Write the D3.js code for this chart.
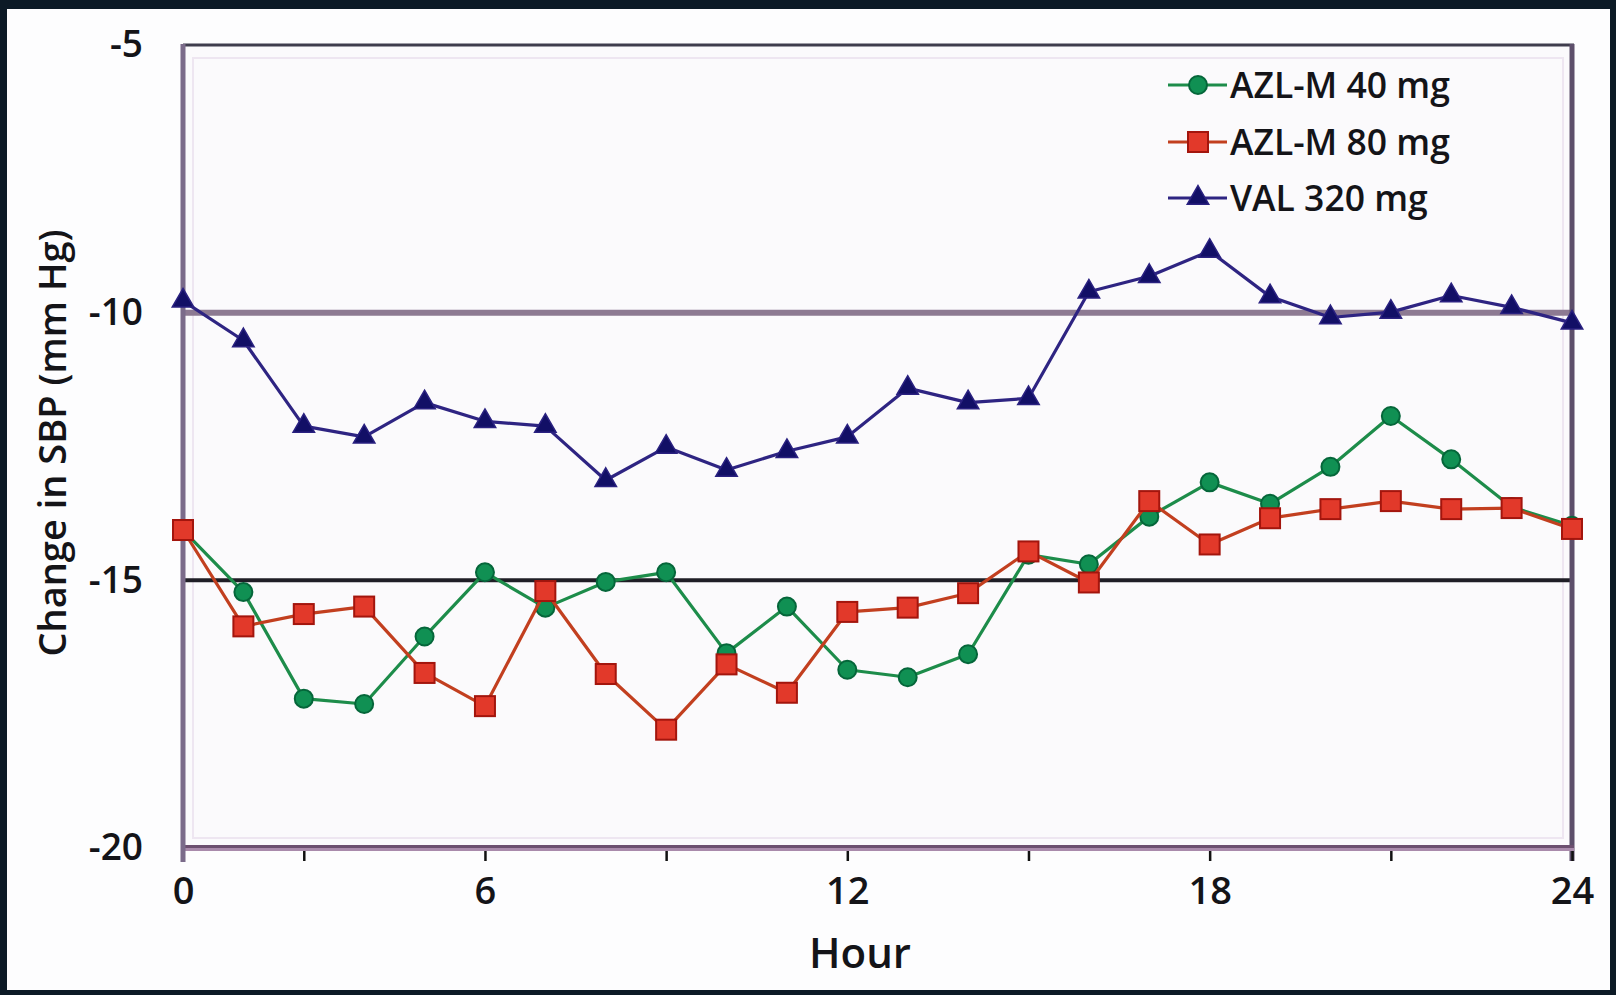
<!DOCTYPE html>
<html>
<head>
<meta charset="utf-8">
<script src="https://cdn.jsdelivr.net/npm/d3@7"></script>
<style>
  html, body { margin: 0; padding: 0; background: #ffffff; }
  svg { display: block; }
  text { font-family: "Open Sans", "DejaVu Sans", sans-serif; fill: #141418; }
</style>
</head>
<body>
<svg id="chart" width="1616" height="995"></svg>
<script>
// Hourly change in systolic blood pressure over the 24-hour dosing interval
const hours = [1, 2, 3, 4, 5, 6, 7, 8, 9, 10, 11, 12, 13, 14, 15, 16, 17, 18, 19, 20, 21, 22, 23, 24];
const azl40 = [-14.06, -15.22, -17.21, -17.31, -16.05, -14.85, -15.51, -15.03, -14.85, -16.36, -15.49, -16.67,
               -16.81, -16.38, -14.52, -14.70, -13.81, -13.17, -13.57, -12.88, -11.93, -12.74, -13.63, -13.98];
const azl80 = [-14.06, -15.86, -15.63, -15.49, -16.73, -17.35, -15.20, -16.75, -17.79, -16.57, -17.10, -15.59,
               -15.51, -15.24, -14.46, -15.04, -13.52, -14.33, -13.84, -13.67, -13.52, -13.67, -13.65, -14.04];
const val320 = [-9.78, -10.52, -12.12, -12.32, -11.68, -12.03, -12.12, -13.13, -12.51, -12.94, -12.59, -12.32,
                -11.41, -11.68, -11.60, -9.61, -9.32, -8.85, -9.70, -10.09, -9.99, -9.68, -9.90, -10.19];

const seriesNames = ["AZL-M 40 mg", "AZL-M 80 mg", "VAL 320 mg"];
const seriesColors = ["#1d8c4a", "#c23f1f", "#2e2482"];

const yTicks = [-5, -10, -15, -20];
const xTickHours = [1, 3, 6, 9, 12, 15, 18, 21, 24];
const xLabelHours = [1, 6, 12, 18, 24];
const xLabelTexts = ["0", "6", "12", "18", "24"];

const svg = d3.select("#chart");
const W = 1616, H = 995;
const plot = { left: 183, right: 1572, top: 45, bottom: 848 };

const x = d3.scaleLinear().domain([1, 24]).range([plot.left, plot.right]);
const y = d3.scaleLinear().domain([-20, -5]).range([plot.bottom, plot.top]);

// outer frame
svg.append("rect").attr("width", W).attr("height", H).attr("fill", "#0c1a26");
svg.append("rect").attr("x", 7).attr("y", 9).attr("width", W - 13).attr("height", H - 14).attr("fill", "#fdfdfe");

// plot area
svg.append("rect")
  .attr("x", plot.left).attr("y", plot.top)
  .attr("width", plot.right - plot.left).attr("height", plot.bottom - plot.top)
  .attr("fill", "#fbfafc");
svg.append("rect")
  .attr("x", plot.left + 10).attr("y", plot.top + 13)
  .attr("width", plot.right - plot.left - 19).attr("height", plot.bottom - plot.top - 23)
  .attr("fill", "none").attr("stroke", "#eee6f1").attr("stroke-width", 2);

// reference lines at -10 and -15
svg.append("line")
  .attr("x1", plot.left).attr("x2", plot.right)
  .attr("y1", y(-10)).attr("y2", y(-10))
  .attr("stroke", "#8d7a92").attr("stroke-width", 6);
svg.append("line")
  .attr("x1", plot.left).attr("x2", plot.right)
  .attr("y1", y(-15)).attr("y2", y(-15))
  .attr("stroke", "#1f1e26").attr("stroke-width", 4);

// top and right border of plot area
svg.append("line")
  .attr("x1", plot.left).attr("x2", plot.right + 2)
  .attr("y1", y(-5)).attr("y2", y(-5))
  .attr("stroke", "#3f3d4d").attr("stroke-width", 3);
svg.append("line")
  .attr("x1", plot.right).attr("x2", plot.right)
  .attr("y1", plot.top - 1).attr("y2", plot.bottom + 13)
  .attr("stroke", "#5d4f6b").attr("stroke-width", 5);

// x axis: ticks and labels
const xAxis = d3.axisBottom(x)
  .tickValues(xTickHours)
  .tickSizeInner(13).tickSizeOuter(0).tickPadding(16)
  .tickFormat(d => {
    const i = xLabelHours.indexOf(d);
    return i >= 0 ? xLabelTexts[i] : "";
  });
const gx = svg.append("g").attr("transform", `translate(0,${plot.bottom})`).call(xAxis);
gx.select(".domain").remove();
gx.selectAll(".tick line").attr("stroke", "#111").attr("stroke-width", 2.5);
gx.selectAll(".tick text").attr("font-size", 38).attr("font-weight", 600).attr("fill", "#141418");

// bottom axis line (two-tone)
svg.append("line")
  .attr("x1", plot.left - 2).attr("x2", plot.right + 2)
  .attr("y1", plot.bottom - 1.5).attr("y2", plot.bottom - 1.5)
  .attr("stroke", "#6c4f6f").attr("stroke-width", 3);
svg.append("line")
  .attr("x1", plot.left - 2).attr("x2", plot.right + 2)
  .attr("y1", plot.bottom + 1.5).attr("y2", plot.bottom + 1.5)
  .attr("stroke", "#a98aab").attr("stroke-width", 3);

// y axis
const yAxis = d3.axisLeft(y)
  .tickValues(yTicks)
  .tickSize(0).tickPadding(40)
  .tickFormat(d => String(d));
const gy = svg.append("g").attr("transform", `translate(${plot.left},0)`).call(yAxis);
gy.select(".domain").remove();
gy.selectAll(".tick text").attr("font-size", 37).attr("font-weight", 600).attr("fill", "#141418");
svg.append("line")
  .attr("x1", plot.left).attr("x2", plot.left)
  .attr("y1", plot.top - 1).attr("y2", plot.bottom + 14)
  .attr("stroke", "#7b6b8a").attr("stroke-width", 5);

// axis titles
svg.append("text")
  .attr("x", 860).attr("y", 968)
  .attr("text-anchor", "middle")
  .attr("font-size", 42).attr("font-weight", 600)
  .text("Hour");
svg.append("text")
  .attr("transform", "translate(66,443) rotate(-90)")
  .attr("text-anchor", "middle")
  .attr("font-size", 38).attr("font-weight", 600)
  .text("Change in SBP (mm Hg)");

// series
const series = [azl40, azl80, val320];
const line = d3.line().x((d, i) => x(hours[i])).y(d => y(d));

function drawMarker(g, kind, cx, cy) {
  if (kind === 0) {
    g.append("circle").attr("cx", cx).attr("cy", cy).attr("r", 9)
      .attr("fill", "#109053").attr("stroke", "#05663a").attr("stroke-width", 2);
  } else if (kind === 1) {
    g.append("rect").attr("x", cx - 10).attr("y", cy - 10).attr("width", 20).attr("height", 20)
      .attr("fill", "#e2392a").attr("stroke", "#a3150d").attr("stroke-width", 2);
  } else {
    g.append("path").attr("d", d3.symbol(d3.symbolTriangle, 200)())
      .attr("transform", `translate(${cx},${cy})`)
      .attr("fill", "#120f66").attr("stroke", "#2a2180").attr("stroke-width", 1.5);
  }
}

series.forEach((vals, k) => {
  const g = svg.append("g");
  g.append("path").datum(vals).attr("d", line)
    .attr("fill", "none").attr("stroke", seriesColors[k]).attr("stroke-width", 3.2)
    .attr("stroke-linejoin", "round");
  vals.forEach((v, i) => drawMarker(g, k, x(hours[i]), y(v)));
});

// legend
const legendRows = [85, 142, 198];
seriesNames.forEach((name, k) => {
  const g = svg.append("g");
  const ly = legendRows[k];
  g.append("line").attr("x1", 1168).attr("x2", 1227).attr("y1", ly).attr("y2", ly)
    .attr("stroke", seriesColors[k]).attr("stroke-width", 3.2);
  drawMarker(g, k, 1198, ly);
  g.append("text").attr("x", 1230).attr("y", ly).attr("dy", "0.36em")
    .attr("font-size", 35.5).attr("font-weight", 600)
    .text(name);
});
</script>
</body>
</html>
